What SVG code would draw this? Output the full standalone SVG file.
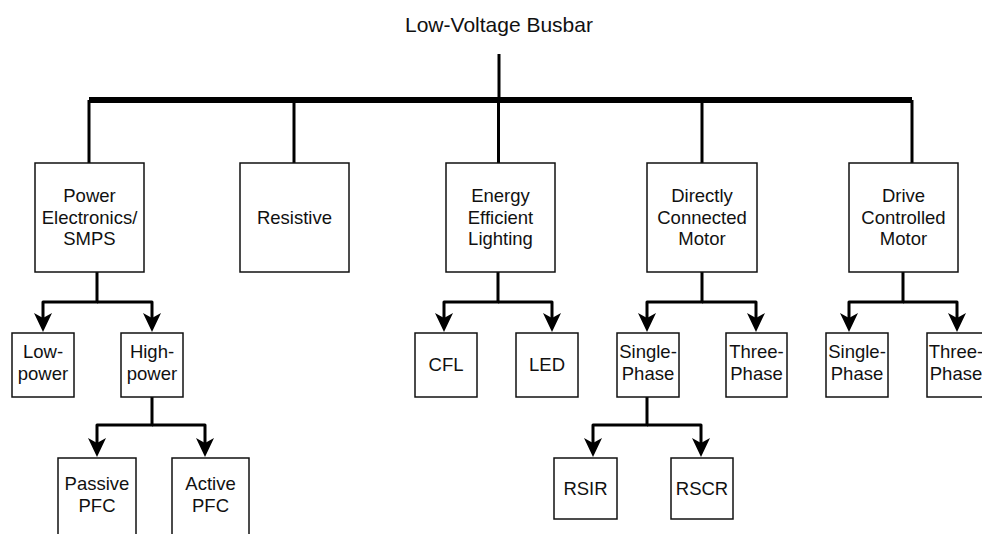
<svg xmlns="http://www.w3.org/2000/svg" width="982" height="534" viewBox="0 0 982 534">
<style>
.box{fill:#fff;stroke:#111;stroke-width:1.5}
.t{font-family:"Liberation Sans",Arial,Helvetica,sans-serif;font-size:18.5px;fill:#111;text-anchor:middle}
.title{font-family:"Liberation Sans",Arial,Helvetica,sans-serif;font-size:21px;fill:#111;text-anchor:middle}
.c{fill:none;stroke:#000;stroke-width:3;stroke-linejoin:round}
.ca{fill:none;stroke:#000;stroke-width:3;stroke-linejoin:round;marker-end:url(#arr)}
.bus{fill:none;stroke:#000;stroke-width:6}
</style>
<defs>
<marker id="arr" markerUnits="userSpaceOnUse" viewBox="-1 -10 21 20" markerWidth="21" markerHeight="20" refX="12" refY="0" orient="auto">
<path d="M19,0 L0,-9 L5,0 L0,9 Z" fill="#000"/>
</marker>
</defs>
<rect width="982" height="534" fill="#fff"/>
<g id="busbar">
<text class="title" x="499" y="32">Low-Voltage Busbar</text>
</g>
<g id="connectors">
<path class="c" d="M499,54 V100"/>
<path class="bus" d="M89,100 H912"/>
<path class="c" d="M89,100 V163"/>
<path class="c" d="M294,100 V163"/>
<path class="c" d="M498.5,100 V163"/>
<path class="c" d="M702,100 V163"/>
<path class="c" d="M912,100 V163"/>
<path class="ca" d="M97,272 V302 H43 V325"/>
<path class="ca" d="M97,302 H152 V325"/>
<path class="ca" d="M498,272 V302 H444 V325"/>
<path class="ca" d="M498,302 H552 V325"/>
<path class="ca" d="M702,272 V302 H647 V325"/>
<path class="ca" d="M702,302 H756 V325"/>
<path class="ca" d="M903,272 V302 H849 V325"/>
<path class="ca" d="M903,302 H957 V325"/>
<path class="ca" d="M152,397 V425 H97 V450"/>
<path class="ca" d="M152,425 H205 V450"/>
<path class="ca" d="M647,397 V425 H593 V450"/>
<path class="ca" d="M647,425 H701 V450"/>
</g>
<g id="pe">
<rect class="box" x="35" y="163" width="109" height="109"/>
<text class="t" x="89.5" y="202">Power</text>
<text class="t" x="89.5" y="223.5">Electronics/</text>
<text class="t" x="89.5" y="245">SMPS</text>
</g>
<g id="resistive">
<rect class="box" x="240" y="163" width="109" height="109"/>
<text class="t" x="294.5" y="224">Resistive</text>
</g>
<g id="lighting">
<rect class="box" x="446" y="163" width="109" height="109"/>
<text class="t" x="500.5" y="202">Energy</text>
<text class="t" x="500.5" y="223.5">Efficient</text>
<text class="t" x="500.5" y="245">Lighting</text>
</g>
<g id="dcm">
<rect class="box" x="647" y="163" width="110" height="109"/>
<text class="t" x="702" y="202">Directly</text>
<text class="t" x="702" y="223.5">Connected</text>
<text class="t" x="702" y="245">Motor</text>
</g>
<g id="drive">
<rect class="box" x="849" y="163" width="109" height="109"/>
<text class="t" x="903.5" y="202">Drive</text>
<text class="t" x="903.5" y="223.5">Controlled</text>
<text class="t" x="903.5" y="245">Motor</text>
</g>
<g id="lowpower">
<rect class="box" x="12" y="333" width="62" height="64"/>
<text class="t" x="43" y="358">Low-</text>
<text class="t" x="43" y="380">power</text>
</g>
<g id="highpower">
<rect class="box" x="121" y="333" width="62" height="64"/>
<text class="t" x="152" y="358">High-</text>
<text class="t" x="152" y="380">power</text>
</g>
<g id="cfl">
<rect class="box" x="415" y="333" width="62" height="64"/>
<text class="t" x="446" y="371">CFL</text>
</g>
<g id="led">
<rect class="box" x="516" y="333" width="62" height="64"/>
<text class="t" x="547" y="371">LED</text>
</g>
<g id="dcm-single">
<rect class="box" x="617" y="333" width="62" height="64"/>
<text class="t" x="648" y="358">Single-</text>
<text class="t" x="648" y="380">Phase</text>
</g>
<g id="dcm-three">
<rect class="box" x="726" y="333" width="61" height="64"/>
<text class="t" x="756.5" y="358">Three-</text>
<text class="t" x="756.5" y="380">Phase</text>
</g>
<g id="drv-single">
<rect class="box" x="826" y="333" width="62" height="64"/>
<text class="t" x="857" y="358">Single-</text>
<text class="t" x="857" y="380">Phase</text>
</g>
<g id="drv-three">
<rect class="box" x="927" y="333" width="62" height="64"/>
<text class="t" x="956" y="358">Three-</text>
<text class="t" x="956" y="380">Phase</text>
</g>
<g id="passive">
<rect class="box" x="58" y="458" width="78" height="82"/>
<text class="t" x="97" y="490">Passive</text>
<text class="t" x="97" y="512">PFC</text>
</g>
<g id="active">
<rect class="box" x="172" y="458" width="77" height="82"/>
<text class="t" x="210.5" y="490">Active</text>
<text class="t" x="210.5" y="512">PFC</text>
</g>
<g id="rsir">
<rect class="box" x="554" y="458" width="63" height="61"/>
<text class="t" x="585.5" y="495">RSIR</text>
</g>
<g id="rscr">
<rect class="box" x="671" y="458" width="62" height="61"/>
<text class="t" x="702" y="495">RSCR</text>
</g>
</svg>
